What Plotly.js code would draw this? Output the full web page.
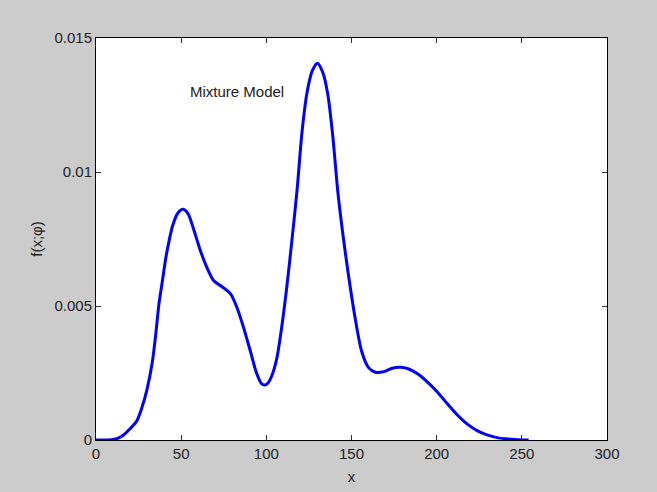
<!DOCTYPE html>
<html>
<head>
<meta charset="utf-8">
<script src="https://cdn.plot.ly/plotly-3.0.1.min.js"></script>
<style>
html,body{margin:0;padding:0;background:#cccccc;}
#chart{width:657px;height:492px;}
</style>
</head>
<body>
<div id="chart"></div>
<script>
var xValues = [0, 5, 10, 13, 16, 20, 24, 27, 30, 33, 35, 37, 39, 41, 43, 45, 48, 51, 54, 57, 61, 65, 69, 74, 79, 83, 87, 91, 94, 97, 99, 101, 103, 106, 109, 112, 115, 118, 121, 124, 127, 130, 133, 136, 139, 142, 145, 148, 152, 156, 160, 164, 169, 174, 179, 184, 189, 194, 200, 206, 212, 218, 224, 230, 236, 242, 248, 254];
var densityValues = [0, 0, 0.00002, 0.00007, 0.00018, 0.00042, 0.00072, 0.00122, 0.00190, 0.00288, 0.00390, 0.00510, 0.00594, 0.00680, 0.00746, 0.00800, 0.00846, 0.00861, 0.00845, 0.00793, 0.00712, 0.00645, 0.00595, 0.00572, 0.00545, 0.00490, 0.00412, 0.00323, 0.00255, 0.00212, 0.00205, 0.00213, 0.00236, 0.00300, 0.00420, 0.00570, 0.00744, 0.00930, 0.01152, 0.01300, 0.01378, 0.01406, 0.01374, 0.01293, 0.01135, 0.00925, 0.00765, 0.00625, 0.00460, 0.00330, 0.00270, 0.00253, 0.00255, 0.00268, 0.00271, 0.00264, 0.00246, 0.00220, 0.00182, 0.00137, 0.00094, 0.00059, 0.00034, 0.00018, 0.00008, 0.00004, 0.00001, 0];
var xTicks = [0, 50, 100, 150, 200, 250, 300];
var yTicks = [0, 0.005, 0.01, 0.015];
var yTickLabels = ["0", "0.005", "0.01", "0.015"];
var annotationText = "Mixture Model";
var xTitle = "x";
var yTitle = "f(x;φ)";

var font = {family: "Liberation Sans, Arial, sans-serif", size: 15, color: "#222222"};

var trace = {
  x: xValues,
  y: densityValues,
  type: "scatter",
  mode: "lines",
  line: {color: "#0000ff", width: 3, shape: "spline", smoothing: 0.8},
  hoverinfo: "skip"
};

var axisCommon = {
  showgrid: false,
  zeroline: false,
  showline: true,
  linecolor: "#000000",
  linewidth: 1,
  mirror: "ticks",
  ticks: "inside",
  ticklen: 5,
  tickwidth: 1,
  tickcolor: "#333333",
  tickfont: font,
  fixedrange: true
};

var layout = {
  width: 657,
  height: 492,
  paper_bgcolor: "#cccccc",
  plot_bgcolor: "#ffffff",
  margin: {l: 96, r: 50, t: 38, b: 52},
  showlegend: false,
  font: font,
  xaxis: Object.assign({}, axisCommon, {
    range: [0, 300],
    tickmode: "array",
    tickvals: xTicks,
    ticktext: xTicks.map(String),
    title: {text: xTitle, font: font, standoff: 10}
  }),
  yaxis: Object.assign({}, axisCommon, {
    range: [0, 0.015],
    tickmode: "array",
    tickvals: yTicks,
    ticktext: yTickLabels,
    title: {text: yTitle, font: font, standoff: 8}
  }),
  annotations: [{
    x: 54, y: 0.013, xref: "x", yref: "y",
    text: annotationText, showarrow: false,
    xanchor: "left", yanchor: "middle",
    font: font
  }]
};

Plotly.newPlot("chart", [trace], layout, {displayModeBar: false, staticPlot: true});
</script>
</body>
</html>
